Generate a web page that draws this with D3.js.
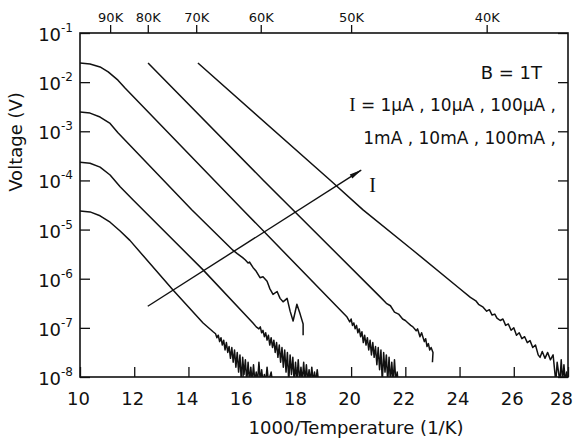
<!DOCTYPE html>
<html>
<head>
<meta charset="utf-8">
<script src="https://cdn.jsdelivr.net/npm/d3@7"></script>
<style>
  body { margin: 0; background: #fff; }
  svg text { font-family: "DejaVu Sans", sans-serif; fill: #111; }
</style>
</head>
<body>
<script>
// axis ticks
const xTicks = [10, 12, 14, 16, 18, 20, 22, 24, 26, 28];
const yExponents = [-1, -2, -3, -4, -5, -6, -7, -8];
const topKelvin = [90, 80, 70, 60, 50, 40];

// curves: [1000/T, log10(V)]
const curve1uA = [
  [10, -4.62], [10.37, -4.64], [10.74, -4.72], [11.11, -4.85], [11.48, -5.03], [11.84, -5.22],
  [13.43, -6.23], [14.54, -6.9], [14.91, -7.08],
  [15.0, -7.12], [15.05, -7.2], [15.1, -7.15], [15.15, -7.28], [15.2, -7.2], [15.25, -7.35],
  [15.3, -7.25], [15.35, -7.45], [15.4, -7.3], [15.45, -7.5], [15.5, -7.38], [15.55, -7.62],
  [15.6, -7.4], [15.65, -7.7], [15.7, -7.45], [15.75, -7.8], [15.8, -7.5], [15.85, -7.9],
  [15.9, -7.55], [15.95, -8.1], [16.0, -7.6], [16.05, -7.95], [16.1, -7.65], [16.15, -8.1],
  [16.2, -7.7], [16.25, -8.1], [16.3, -7.8], [16.35, -8.1], [16.4, -7.75], [16.45, -8.1],
  [16.5, -7.9], [16.55, -8.1], [16.6, -7.7], [16.65, -8.1], [16.7, -7.85], [16.75, -8.1],
  [16.8, -7.95], [16.85, -8.1], [16.9, -7.8], [16.95, -8.1], [17.05, -7.9], [17.1, -8.1]
];
const curve10uA = [
  [10, -3.63], [10.37, -3.65], [10.74, -3.73], [11.11, -3.89], [11.48, -4.13], [11.96, -4.4],
  [14.54, -5.82], [16.38, -6.9],
  [16.5, -6.98], [16.6, -7.02], [16.65, -6.98], [16.7, -7.1], [16.75, -7.05], [16.8, -7.18],
  [16.85, -7.1], [16.9, -7.25], [16.95, -7.15], [17.0, -7.35], [17.05, -7.2], [17.1, -7.4],
  [17.15, -7.25], [17.2, -7.5], [17.25, -7.3], [17.3, -7.6], [17.35, -7.35], [17.4, -7.7],
  [17.45, -7.4], [17.5, -7.8], [17.55, -7.45], [17.6, -7.9], [17.65, -7.5], [17.7, -8.1],
  [17.75, -7.55], [17.8, -7.95], [17.85, -7.6], [17.9, -8.1], [17.95, -7.7], [18.0, -8.1],
  [18.05, -7.65], [18.1, -8.1], [18.15, -7.8], [18.2, -8.1], [18.25, -7.7], [18.3, -8.1],
  [18.35, -7.75], [18.4, -8.1], [18.45, -7.85], [18.5, -8.1], [18.55, -7.8], [18.6, -8.1],
  [18.65, -7.9], [18.7, -8.1], [18.75, -7.85], [18.8, -8.1]
];
const curve100uA = [
  [10, -2.61], [10.37, -2.63], [10.74, -2.71], [11.11, -2.84], [11.4, -3.03],
  [14.13, -4.6], [15.64, -5.42],
  [15.8, -5.49], [15.9, -5.53], [16.0, -5.57], [16.1, -5.62], [16.2, -5.68], [16.25, -5.66],
  [16.38, -5.77], [16.5, -5.85], [16.64, -5.98], [16.75, -5.96], [16.9, -6.05], [17.0, -6.2],
  [17.12, -6.32], [17.27, -6.26], [17.38, -6.4], [17.49, -6.47], [17.64, -6.4], [17.75, -6.66],
  [17.86, -6.86], [18.0, -6.52], [18.12, -6.72], [18.23, -6.92], [18.23, -7.15]
];
const curve1mA = [
  [10, -1.61], [10.37, -1.63], [10.74, -1.69], [11.04, -1.79], [11.4, -1.96], [11.66, -2.12],
  [16.01, -4.6], [19.85, -6.78],
  [19.95, -6.88], [20.0, -6.82], [20.05, -6.95], [20.1, -6.9], [20.15, -7.02], [20.2, -6.95],
  [20.25, -7.1], [20.3, -7.02], [20.35, -7.18], [20.4, -7.08], [20.45, -7.3], [20.5, -7.15],
  [20.55, -7.35], [20.6, -7.2], [20.65, -7.45], [20.7, -7.25], [20.75, -7.55], [20.8, -7.3],
  [20.85, -7.6], [20.9, -7.38], [20.95, -7.75], [21.0, -7.4], [21.05, -7.85], [21.1, -7.45],
  [21.15, -8.1], [21.2, -7.5], [21.25, -7.9], [21.3, -7.55], [21.35, -8.1], [21.4, -7.6],
  [21.45, -8.1], [21.5, -7.7], [21.55, -8.1], [21.6, -7.65], [21.65, -8.1], [21.7, -7.9], [21.73, -8.1]
];
const curve10mA = [
  [12.51, -1.61], [16.75, -3.99], [21.07, -6.37],
  [21.3, -6.5], [21.45, -6.55], [21.6, -6.68], [21.75, -6.72], [21.9, -6.82], [22.0, -6.85],
  [22.1, -6.9], [22.2, -6.95], [22.28, -6.98], [22.4, -7.06], [22.45, -7.02], [22.54, -7.18],
  [22.6, -7.1], [22.7, -7.28], [22.75, -7.22], [22.8, -7.38], [22.85, -7.32], [22.9, -7.45],
  [22.95, -7.4], [23.02, -7.5], [23.0, -7.7]
];
const curve100mA = [
  [14.35, -1.61], [19.22, -3.99], [20.44, -4.6], [22.28, -5.42], [24.0, -6.2],
  [24.4, -6.38], [24.6, -6.45], [24.7, -6.52], [24.87, -6.58], [25.0, -6.66], [25.1, -6.63],
  [25.2, -6.74], [25.3, -6.72], [25.38, -6.8], [25.5, -6.85], [25.6, -6.82], [25.7, -6.95],
  [25.8, -6.92], [25.9, -7.05], [26.0, -7.0], [26.1, -7.15], [26.2, -7.1], [26.3, -7.22],
  [26.4, -7.18], [26.5, -7.3], [26.6, -7.26], [26.7, -7.4], [26.8, -7.35], [26.9, -7.55],
  [26.97, -7.6], [27.05, -7.48], [27.15, -7.62], [27.25, -7.5], [27.35, -7.65], [27.45, -7.55],
  [27.55, -8.1], [27.6, -7.7], [27.7, -8.1], [27.75, -7.65], [27.8, -8.1], [27.85, -7.75],
  [27.9, -8.1], [27.95, -7.9], [28.0, -8.1]
];
const curves = [curve1uA, curve10uA, curve100uA, curve1mA, curve10mA, curve100mA];

// arrow marking increasing current, [1000/T, log10(V)]
const arrowFrom = [12.5, -6.56];
const arrowTo = [20.37, -3.79];

const width = 577;
const height = 441;
const margin = {top: 33, right: 9, bottom: 64, left: 80};

const x = d3.scaleLinear()
  .domain([10, 28])
  .range([margin.left, width - margin.right]);

const y = d3.scaleLog()
  .domain([1e-8, 1e-1])
  .range([height - margin.bottom, margin.top]);

const svg = d3.select("body").append("svg")
  .attr("width", width)
  .attr("height", height)
  .attr("viewBox", [0, 0, width, height]);

svg.append("defs").append("clipPath")
  .attr("id", "plot")
  .append("rect")
  .attr("x", margin.left)
  .attr("y", margin.top)
  .attr("width", width - margin.left - margin.right)
  .attr("height", height - margin.top - margin.bottom);

// bottom axis, ticks pointing in
svg.append("g")
  .attr("transform", `translate(0,${height - margin.bottom})`)
  .call(d3.axisBottom(x).tickValues(xTicks).tickSizeInner(-10).tickSizeOuter(0).tickPadding(15))
  .call(g => g.select(".domain").remove())
  .call(g => g.selectAll(".tick line").attr("stroke", "#111").attr("stroke-width", 1.3))
  .call(g => g.selectAll(".tick text").attr("font-size", 18).attr("dx", d => d === 28 ? -7 : -2));

// top axis in Kelvin, ticks pointing out
svg.append("g")
  .attr("transform", `translate(0,${margin.top})`)
  .call(d3.axisTop(x)
    .tickValues(topKelvin.map(k => 1000 / k))
    .tickFormat((d, i) => topKelvin[i] + "K")
    .tickSizeInner(8).tickSizeOuter(0).tickPadding(3))
  .call(g => g.select(".domain").remove())
  .call(g => g.selectAll(".tick line").attr("stroke", "#111").attr("stroke-width", 1.3))
  .call(g => g.selectAll(".tick text").attr("font-size", 13));

// left and right axes
const yTickValues = yExponents.map(e => Math.pow(10, e));
svg.append("g")
  .attr("transform", `translate(${margin.left},0)`)
  .call(d3.axisLeft(y).tickValues(yTickValues).tickSizeInner(-10).tickSizeOuter(0).tickFormat(""))
  .call(g => g.select(".domain").remove())
  .call(g => g.selectAll(".tick line").attr("stroke", "#111").attr("stroke-width", 1.3));

svg.append("g")
  .attr("transform", `translate(${width - margin.right},0)`)
  .call(d3.axisRight(y).tickValues(yTickValues).tickSizeInner(-10).tickSizeOuter(0).tickFormat(""))
  .call(g => g.select(".domain").remove())
  .call(g => g.selectAll(".tick line").attr("stroke", "#111").attr("stroke-width", 1.3));

// y tick labels: 10 with superscript exponent
const yLabels = svg.append("g")
  .selectAll("text")
  .data(yExponents)
  .join("text")
  .attr("x", 73)
  .attr("y", d => y(Math.pow(10, d)) + 8)
  .attr("text-anchor", "end")
  .attr("font-size", 18);
yLabels.append("tspan").text("10");
yLabels.append("tspan")
  .attr("dy", -9)
  .attr("font-size", 12)
  .text(d => "-" + Math.abs(d));

// frame
svg.append("rect")
  .attr("x", margin.left)
  .attr("y", margin.top)
  .attr("width", width - margin.left - margin.right)
  .attr("height", height - margin.top - margin.bottom)
  .attr("fill", "none")
  .attr("stroke", "#111")
  .attr("stroke-width", 1.6);

// curves
const line = d3.line()
  .x(d => x(d[0]))
  .y(d => y(Math.pow(10, d[1])));

svg.append("g")
  .attr("clip-path", "url(#plot)")
  .selectAll("path")
  .data(curves)
  .join("path")
  .attr("d", line)
  .attr("fill", "none")
  .attr("stroke", "#111")
  .attr("stroke-width", 1.5)
  .attr("stroke-linejoin", "round");

// arrow
svg.append("defs").append("marker")
  .attr("id", "head")
  .attr("viewBox", "0 -5 16 10")
  .attr("refX", 15)
  .attr("refY", 0)
  .attr("markerUnits", "userSpaceOnUse")
  .attr("markerWidth", 16)
  .attr("markerHeight", 8)
  .attr("orient", "auto")
  .append("path")
  .attr("d", "M0,-3L16,0L0,3Z")
  .attr("fill", "#111");

svg.append("path")
  .attr("d", line([arrowFrom, arrowTo]))
  .attr("stroke", "#111")
  .attr("stroke-width", 1.4)
  .attr("marker-end", "url(#head)");

svg.append("text")
  .attr("x", x(arrowTo[0]) + 8)
  .attr("y", y(Math.pow(10, arrowTo[1])) + 22)
  .attr("font-size", 20)
  .style("font-family", "'Liberation Serif', serif")
  .text("I");

// annotations
svg.append("text")
  .attr("x", 542)
  .attr("y", 79)
  .attr("text-anchor", "end")
  .attr("font-size", 18)
  .text("B = 1T");

const iLine = svg.append("text")
  .attr("x", 556)
  .attr("y", 111)
  .attr("text-anchor", "end")
  .attr("font-size", 17);
iLine.append("tspan").style("font-family", "'Liberation Serif', serif").attr("font-size", 19).text("I");
iLine.append("tspan").text(" = 1µA , 10µA , 100µA ,");

svg.append("text")
  .attr("x", 556)
  .attr("y", 144)
  .attr("text-anchor", "end")
  .attr("font-size", 17)
  .text("1mA , 10mA , 100mA ,");

// axis titles
svg.append("text")
  .attr("x", 356)
  .attr("y", 434)
  .attr("text-anchor", "middle")
  .attr("font-size", 18)
  .text("1000/Temperature (1/K)");

svg.append("text")
  .attr("transform", "translate(22,142) rotate(-90)")
  .attr("text-anchor", "middle")
  .attr("font-size", 18)
  .text("Voltage (V)");
</script>
</body>
</html>
